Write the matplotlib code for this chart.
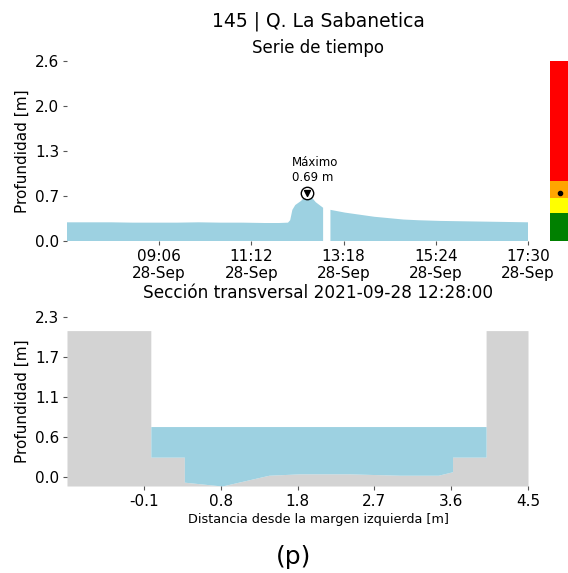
import numpy as np
import pandas as pd
import matplotlib
matplotlib.use("Agg")
import matplotlib.pyplot as plt

# serie de tiempo (profundidad en m), NaN = sin dato
DAY = "2021-09-28"
times = ["07:00", "07:30", "08:00", "08:30", "09:00", "09:30", "10:00", "10:30",
         "11:00", "11:30", "11:50", "12:02", "12:05", "12:08", "12:12", "12:16",
         "12:20", "12:24", "12:28", "12:32", "12:36", "12:40", "12:45", "12:50",
         "12:51", "12:59", "13:00", "13:05", "13:10", "13:20", "13:40", "14:00",
         "14:20", "14:40", "15:00", "15:30", "16:00", "16:30", "17:00", "17:30"]
depth = [0.27, 0.27, 0.27, 0.265, 0.265, 0.265, 0.27, 0.265,
         0.265, 0.26, 0.26, 0.265, 0.30, 0.45, 0.52, 0.55,
         0.58, 0.63, 0.66, 0.65, 0.61, 0.56, 0.52, 0.48,
         np.nan, np.nan, 0.45, 0.44, 0.43, 0.41, 0.38, 0.35,
         0.33, 0.31, 0.30, 0.29, 0.285, 0.28, 0.275, 0.27]
max_time = "12:28"
max_depth = 0.69
ts_yticklabels = ["0.0", "0.7", "1.3", "2.0", "2.6"]

# semaforo de niveles
level_bounds = [0.0, 0.40, 0.62, 0.87, 2.6]
level_colors = ["green", "yellow", "orange", "red"]

# seccion transversal
sec_x = [-1.0, 0.0, 0.0, 0.40, 0.40, 0.85, 1.41, 1.78, 2.36, 2.97, 3.43, 3.6, 3.6, 4.0, 4.0, 4.5]
sec_y = [2.1, 2.1, 0.28, 0.28, -0.08, -0.135, 0.02, 0.04, 0.04, 0.02, 0.02, 0.07, 0.28, 0.28, 2.1, 2.1]
water_level = 0.72
sec_yticklabels = ["0.0", "0.6", "1.1", "1.7", "2.3"]

WATER = "#9dd1e1"
GROUND = "#d3d3d3"
W, H = 568, 573

fig = plt.figure(figsize=(W / 100, H / 100), dpi=100)


def px_axes(left, top, right, bottom):
    return fig.add_axes([left / W, 1 - bottom / H, (right - left) / W, (bottom - top) / H])


def clean(ax):
    for s in ax.spines.values():
        s.set_visible(False)
    ax.tick_params(length=3, width=0.8, color="#555555", labelsize=11, pad=2.5)


# --- serie de tiempo ---
ax1 = px_axes(67, 61, 528, 241)
t = pd.to_datetime([DAY + " " + s for s in times])
ax1.fill_between(t, 0, np.array(depth, dtype=float), color=WATER, linewidth=0)
tmax = pd.Timestamp(DAY + " " + max_time)
ax1.scatter([tmax], [max_depth], s=80, facecolor="white", edgecolor="black", linewidth=1, zorder=3)
ax1.scatter([tmax], [max_depth], s=18, marker="v", color="black", zorder=4)
ax1.annotate("Máximo\n%.2f m" % max_depth, (tmax, max_depth), xytext=(-15, 9),
             textcoords="offset pixels", ha="left", va="bottom", fontsize=8.5)
ax1.set_xlim(t[0], t[-1])
ax1.set_ylim(0, 2.6)
xt = pd.date_range(t[0], t[-1], periods=6)[1:]
ax1.set_xticks(xt)
ax1.set_xticklabels([d.strftime("%H:%M\n%d-%b") for d in xt])
ax1.set_yticks(np.linspace(0, 2.6, 5))
ax1.set_yticklabels(ts_yticklabels)
ax1.set_ylabel("Profundidad [m]", fontsize=11, labelpad=4)
clean(ax1)

# --- semaforo ---
axb = px_axes(550, 61, 570, 241)
for lo, hi, c in zip(level_bounds[:-1], level_bounds[1:], level_colors):
    axb.bar(0.5, hi - lo, bottom=lo, width=1, color=c, linewidth=0)
axb.plot(0.5, max_depth, "o", color="black", markersize=3)
axb.set_xlim(0, 1)
axb.set_ylim(0, 2.6)
axb.axis("off")

# --- seccion transversal ---
ax2 = px_axes(67, 316.7, 528, 486)
sx = np.array(sec_x)
sy = np.array(sec_y)
ymin = -0.135
ax2.fill_between(sx, ymin, sy, color=GROUND, linewidth=0)
m = (sx >= 0.0) & (sx <= 4.0)
ax2.fill_between(sx[m], np.minimum(sy[m], water_level), water_level, color=WATER, linewidth=0)
ax2.set_xlim(-1.0, 4.5)
ax2.set_ylim(ymin, 2.3)
xt2 = np.linspace(-1.0, 4.5, 7)[1:]
ax2.set_xticks(xt2)
ax2.set_xticklabels(["%.1f" % v for v in xt2])
ax2.set_yticks(np.linspace(0, 2.3, 5))
ax2.set_yticklabels(sec_yticklabels)
ax2.set_ylabel("Profundidad [m]", fontsize=11, labelpad=4)
ax2.set_xlabel("Distancia desde la margen izquierda [m]", fontsize=9.2, labelpad=3)
ax2.xaxis.label.set_x((318 - 67) / 461)
clean(ax2)

fig.text(318 / W, 1 - 21 / H, "145 | Q. La Sabanetica", ha="center", va="center", fontsize=13.5)
fig.text(318 / W, 1 - 48 / H, "Serie de tiempo", ha="center", va="center", fontsize=12)
fig.text(318 / W, 1 - 293 / H, "Sección transversal 2021-09-28 12:28:00", ha="center", va="center", fontsize=12.2)
fig.text(294 / W, 1 - 557 / H, "(p)", ha="center", va="center", fontsize=18)

fig.savefig("out.png", dpi=100)
